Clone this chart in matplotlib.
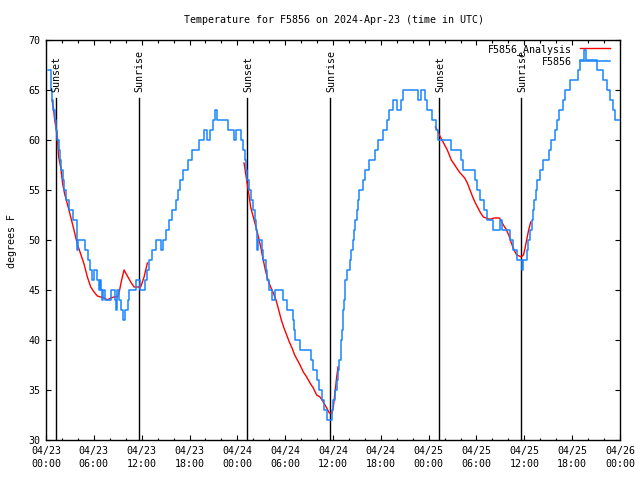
import numpy as np
import matplotlib.pyplot as plt

# hours since 2024-04-23 00:00 UTC
station_hours = [0.25, 0.59, 0.67, 0.75, 0.92, 1.09, 1.26, 1.42, 1.59, 1.76, 1.92, 2.09, 2.26, 2.45,
                 2.93, 3.40, 3.90, 4.05, 4.85, 5.30, 5.52, 5.75, 6.00, 6.45, 6.60, 6.77, 6.90, 7.02,
                 7.20, 7.45, 8.20, 8.65, 8.78, 8.90, 9.20, 9.45, 9.60, 9.95, 10.25, 10.37, 11.25, 11.85,
                 12.40, 12.63, 12.96, 13.30, 13.80, 14.45, 14.65, 15.10, 15.45, 15.75, 16.30, 16.55,
                 16.81, 17.20, 17.85, 18.31, 19.15, 19.82, 20.24, 20.57, 20.99, 21.24, 21.49, 22.83,
                 23.58, 23.83, 24.50, 24.75, 24.95, 25.09, 25.25, 25.42, 25.67, 26.00, 26.17, 26.34,
                 26.43, 26.60, 27.09, 27.26, 27.60, 27.76, 27.93, 28.35, 28.77, 29.77, 30.27, 30.94,
                 31.11, 31.28, 31.86, 33.20, 33.53, 34.04, 34.20, 34.62, 34.90, 35.21, 35.88, 36.04,
                 36.29, 36.46, 36.63, 36.80, 36.96, 37.13, 37.30, 37.38, 37.55, 37.71, 38.13, 38.30,
                 38.47, 38.63, 38.80, 38.97, 39.13, 39.30, 39.72, 40.05, 40.55, 41.22, 41.64, 42.31,
                 42.73, 43.07, 43.50, 43.99, 44.49, 44.82, 46.66, 47.10, 47.50, 47.85, 48.45, 48.90,
                 49.20, 50.84, 52.10, 52.26, 53.77, 54.02, 54.45, 54.95, 55.35, 56.03, 56.95, 57.15,
                 58.15, 58.62, 59.04, 59.71, 59.88, 60.29, 60.50, 60.71, 60.92, 61.10, 61.25, 61.42,
                 61.60, 61.96, 62.30, 63.05, 63.39, 63.81, 64.06, 64.31, 64.81, 65.06, 65.73, 66.75,
                 66.98, 67.50, 67.75, 69.15, 69.90, 70.40, 70.80, 71.10, 71.40, 72.00]
station_temp = [67, 66, 65, 64, 63, 62, 61, 60, 59, 58, 57, 56, 55, 54,
                53, 52, 49, 50, 49, 48, 47, 46, 47, 46, 45, 46, 45, 44,
                45, 44, 45, 44, 43, 45, 44, 43, 42, 43, 44, 45, 46, 45,
                46, 47, 48, 49, 50, 49, 50, 51, 52, 53, 54, 55,
                56, 57, 58, 59, 60, 61, 60, 61, 62, 63, 62, 61,
                60, 61, 60, 59, 58, 57, 56, 55, 54, 53, 52, 51,
                49, 50, 49, 48, 47, 46, 45, 44, 45, 44, 43, 42,
                41, 40, 39, 38, 37, 36, 35, 34, 33, 32, 33, 34,
                35, 36, 37, 38, 40, 41, 43, 44, 46, 47, 48, 49,
                50, 51, 52, 53, 54, 55, 56, 57, 58, 59, 60, 61,
                62, 63, 64, 63, 64, 65, 64, 65, 64, 63, 62, 61,
                60, 59, 58, 57, 56, 55, 54, 53, 52, 51, 52, 51,
                50, 49, 48, 47, 48, 49, 50, 51, 52, 53, 54, 55,
                56, 57, 58, 59, 60, 61, 62, 63, 64, 65, 66, 67,
                68, 69, 68, 67, 66, 65, 64, 63, 62, 62]

analysis_hours = [
    [0.75, 0.92, 1.09, 1.26, 1.42, 1.59, 1.84, 2.09, 2.34, 2.68, 3.10, 3.51, 3.93, 4.35, 4.77,
     5.19, 5.61, 6.03, 6.44, 6.86, 7.28, 7.70, 8.12, 8.54, 8.95, 9.21, 9.46, 9.79, 10.21,
     10.63, 11.05, 11.46, 11.88, 12.30, 12.72],
    [24.84, 25.17, 25.42, 25.67, 26.00, 26.34, 26.68, 26.93, 27.18, 27.51, 27.85, 28.18, 28.52,
     28.85, 29.19, 29.52, 29.85, 30.19, 30.52, 30.86, 31.19, 31.53, 31.86, 32.28, 32.70, 33.12,
     33.53, 33.95, 34.37, 34.79, 35.21, 35.54, 35.88, 36.04, 36.29, 36.46, 36.63],
    [48.84, 49.09, 49.34, 49.67, 50.01, 50.34, 50.59, 50.84, 51.18, 51.51, 51.85, 52.18, 52.52,
     52.85, 53.19, 53.52, 53.86, 54.19, 54.52, 54.86, 55.19, 55.53, 55.86, 56.20, 56.53, 56.87,
     57.03, 57.37, 57.70, 58.04, 58.37, 58.71, 59.04, 59.37, 59.62, 59.88, 60.04, 60.29, 60.54,
     60.80],
]
analysis_temp = [
    [64.0, 63.3, 62.0, 61.2, 60.3, 58.3, 57.3, 55.6, 54.6, 53.6, 52.3, 51.0, 49.6, 48.6, 47.6,
     46.3, 45.3, 44.8, 44.4, 44.3, 44.2, 44.0, 44.2, 44.3, 44.3, 44.9, 45.9, 47.0, 46.4,
     45.8, 45.3, 45.3, 45.3, 46.3, 47.7],
    [57.7, 56.0, 54.7, 53.3, 52.3, 51.3, 50.2, 49.3, 48.3, 47.0, 46.0, 45.3, 44.7,
     44.0, 43.0, 42.0, 41.2, 40.5, 39.8, 39.2, 38.5, 38.0, 37.5, 36.8, 36.3, 35.7,
     35.2, 34.5, 34.3, 33.8, 33.2, 32.7, 32.7, 33.3, 35.0, 36.3, 37.3],
    [61.3, 61.0, 60.5, 60.0, 59.5, 59.0, 58.5, 58.0, 57.6, 57.2, 56.8, 56.5, 56.2,
     55.7, 55.0, 54.3, 53.7, 53.2, 52.7, 52.3, 52.2, 52.1, 52.1, 52.2, 52.2, 52.2,
     52.0, 51.5, 51.1, 50.5, 49.7, 49.0, 48.5, 48.4, 48.3, 48.5, 49.0, 50.0, 51.0,
     51.8],
]

sunset_hours = [1.25, 25.27, 49.32]
sunrise_hours = [11.62, 35.65, 59.63]

tick_hours = list(range(0, 73, 6))
tick_labels = ['04/23\n00:00', '04/23\n06:00', '04/23\n12:00', '04/23\n18:00',
               '04/24\n00:00', '04/24\n06:00', '04/24\n12:00', '04/24\n18:00',
               '04/25\n00:00', '04/25\n06:00', '04/25\n12:00', '04/25\n18:00',
               '04/26\n00:00']

plt.rcParams['font.family'] = 'DejaVu Sans Mono'
plt.rcParams['font.size'] = 7.2

fig = plt.figure(figsize=(6.4, 4.8), dpi=100)
ax = fig.add_axes([46 / 640, 40 / 480, 574 / 640, 400 / 480])

for i in range(len(analysis_hours)):
    ax.plot(analysis_hours[i], analysis_temp[i], color='red', linewidth=1,
            label='F5856_Analysis' if i == 0 else None, zorder=2)
ax.plot(station_hours, station_temp, color='#1a85ff', linewidth=1.1,
        drawstyle='steps-post', label='F5856', zorder=3)

for h in sunset_hours:
    ax.plot([h, h], [30, 64.2], color='black', linewidth=1, zorder=1)
    ax.text(h + 0.1, 64.8, 'Sunset', rotation=90, ha='center', va='bottom')
for h in sunrise_hours:
    ax.plot([h, h], [30, 64.2], color='black', linewidth=1, zorder=1)
    ax.text(h + 0.1, 64.8, 'Sunrise', rotation=90, ha='center', va='bottom')

ax.set_xlim(0, 72)
ax.set_ylim(30, 70)
ax.set_xticks(tick_hours)
ax.set_xticklabels(tick_labels, linespacing=1.45)
ax.set_xticks(range(0, 73, 2), minor=True)
ax.set_yticks(range(30, 71, 5))
ax.tick_params(which='major', direction='in', length=3.5, width=0.8, top=True, right=True, pad=4)
ax.tick_params(which='minor', direction='in', length=1.8, width=0.8, top=True, right=True)
for s in ax.spines.values():
    s.set_linewidth(1)

fig.text(334 / 640, 1 - 20 / 480, 'Temperature for F5856 on 2024-Apr-23 (time in UTC)',
         ha='center', va='center')
fig.text(12 / 640, 1 - 241 / 480, 'degrees F', rotation=90, ha='center', va='center')

ax.legend(loc='upper right', bbox_to_anchor=(0.9826, 0.99), frameon=False, markerfirst=False,
          handlelength=3.0, handletextpad=0.8, labelspacing=0.2, borderaxespad=0, borderpad=0)

fig.savefig('out.png', dpi=100)
